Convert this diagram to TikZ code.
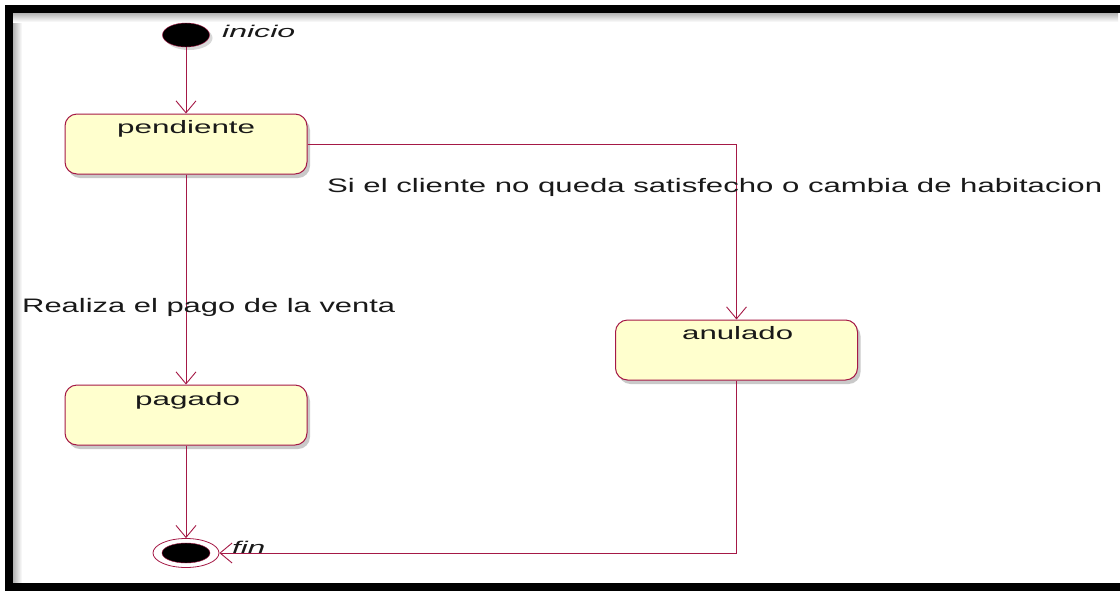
\documentclass[tikz,border=0pt]{standalone}
\usepackage{fontspec}
\setmainfont{Liberation Sans}
\usetikzlibrary{arrows.meta,shapes.geometric,shadows}
\definecolor{umlred}{RGB}{165,25,70}
\definecolor{umlfill}{RGB}{255,255,206}
\newcommand{\wtxt}[3]{\resizebox{#1}{\height}{\fontsize{#2}{#2}\selectfont #3}}
\tikzset{
  statebox/.style={draw=umlred, line width=1pt, fill=umlfill, rounded corners=12pt,
    minimum width=242pt, minimum height=60pt, inner sep=0pt,
    drop shadow={shadow xshift=3pt, shadow yshift=-4pt, fill=black!35, opacity=0.6}},
  txt/.style={anchor=base west, inner sep=0pt, text=black!90},
  conn/.style={draw=umlred, line width=0.9pt, -{Straight Barb[length=12pt,width=20pt,line width=0.9pt]}},
  plain/.style={draw=umlred, line width=0.9pt},
}
\begin{document}
\begin{tikzpicture}[x=1pt,y=-1pt]
\useasboundingbox (0,0) rectangle (1120,590);
\fill[white] (0,0) rectangle (1120,590);
% frame inner shadow
\shade[left color=black!30, right color=white] (13,13) rectangle (22,583);
\shade[top color=black!30, bottom color=white] (13,13) rectangle (1118,22);
\draw[black, line width=8pt] (9,9) rectangle (1124,587);

% initial state
\node[ellipse, draw=umlred, fill=black, minimum width=47pt, minimum height=24pt, inner sep=0pt,
  drop shadow={shadow xshift=3pt, shadow yshift=-3pt, fill=black!30, opacity=0.5}] (init) at (186,35) {};
\node[txt] (initT) at (222,37) {\wtxt{73pt}{17pt}{\itshape inicio}};

% states
\node[statebox] (pend) at (186,144) {};
\node[txt] (pendT) at (117,133) {\wtxt{138pt}{18pt}{pendiente}};
\node[statebox] (pag) at (186,415) {};
\node[txt] (pagT) at (135,405) {\wtxt{105pt}{18pt}{pagado}};
\node[statebox] (anu) at (736.5,350) {};
\node[txt] (anuT) at (682,339) {\wtxt{111pt}{18pt}{anulado}};

% final state
\node[ellipse, draw=umlred, fill=white, line width=0.8pt, minimum width=66pt, minimum height=29pt, inner sep=0pt] (fin) at (186,553) {};
\node[ellipse, draw=umlred, fill=black, minimum width=48pt, minimum height=20pt, inner sep=0pt] (finIn) at (186,553) {};
\node[txt] (finT) at (232,553) {\wtxt{33pt}{17pt}{\itshape fin}};

% connectors
\draw[conn] (init.south) -- (pend.north);
\draw[conn] (pend.east) -| (anu.north);
\draw[conn] (pend.south) -- (pag.north);
\draw[conn] (pag.south) -- (fin.north);
\draw[conn] (anu.south) |- (fin.east);

% labels
\node[txt] (lab1) at (327,192) {\wtxt{775pt}{19.5pt}{Si el cliente no queda satisfecho o cambia de habitacion}};
\node[txt] (lab2) at (22,312) {\wtxt{373pt}{19.5pt}{Realiza el pago de la venta}};
\end{tikzpicture}
\end{document}
